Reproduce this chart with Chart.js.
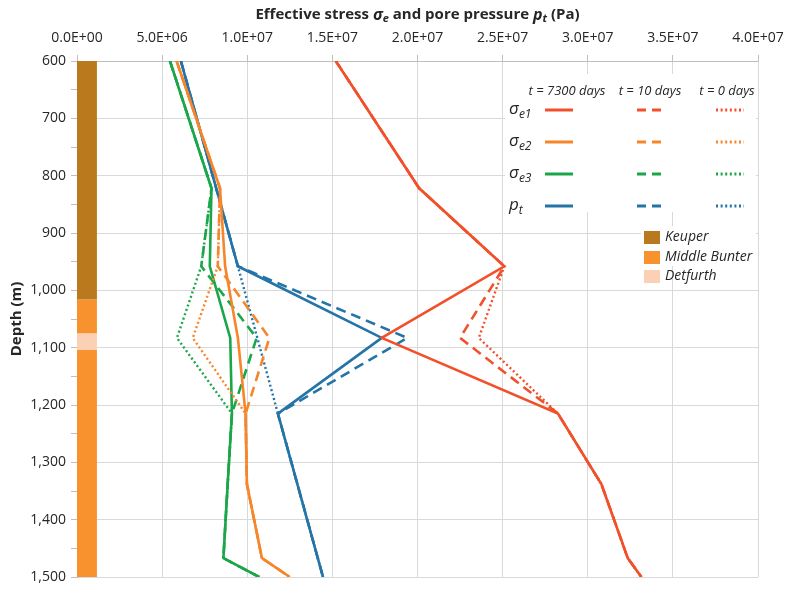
<!DOCTYPE html>
<html>
<head>
<meta charset="utf-8">
<script src="https://cdn.jsdelivr.net/npm/chart.js@4.4.0/dist/chart.umd.min.js"></script>
<style>
    html, body { margin: 0; padding: 0; background: #fff; }
</style>
</head>
<body>
<canvas id="stressChart" width="785" height="589"></canvas>
<script>
// depths (m) where the profiles change slope
const stressDepths = [600, 822, 958, 1083, 1215, 1338, 1467, 1500];
const poreDepths = [600, 958, 1083, 1215, 1500];
const poreDepthsInitial = [600, 958, 1215, 1500];

// sigma_e1 (Pa)
const sigmaE1_7300 = [15.2e6, 20.1e6, 25.1e6, 17.9e6, 28.25e6, 30.8e6, 32.35e6, 33.15e6];
const sigmaE1_10 = [15.2e6, 20.1e6, 25.1e6, 22.5e6, 28.25e6, 30.8e6, 32.35e6, 33.15e6];
const sigmaE1_0 = [15.2e6, 20.1e6, 25.1e6, 23.6e6, 28.25e6, 30.8e6, 32.35e6, 33.15e6];
// sigma_e2 (Pa)
const sigmaE2_7300 = [5.85e6, 8.4e6, 8.7e6, 9.45e6, 9.9e6, 9.98e6, 10.86e6, 12.5e6];
const sigmaE2_10 = [5.85e6, 8.4e6, 8.27e6, 11.3e6, 9.9e6, 9.98e6, 10.86e6, 12.5e6];
const sigmaE2_0 = [5.85e6, 8.4e6, 8.27e6, 6.8e6, 9.9e6, 9.98e6, 10.86e6, 12.5e6];
// sigma_e3 (Pa)
const sigmaE3_7300 = [5.46e6, 7.9e6, 7.8e6, 9.0e6, 9.1e6, 8.85e6, 8.6e6, 10.7e6];
const sigmaE3_10 = [5.46e6, 7.9e6, 7.3e6, 10.55e6, 9.1e6, 8.85e6, 8.6e6, 10.7e6];
const sigmaE3_0 = [5.46e6, 7.9e6, 7.3e6, 5.87e6, 9.1e6, 8.85e6, 8.6e6, 10.7e6];
// pore pressure p_t (Pa)
const pore_7300 = [6.1e6, 9.45e6, 17.9e6, 11.8e6, 14.45e6];
const pore_10 = [6.1e6, 9.45e6, 19.4e6, 11.8e6, 14.45e6];
const pore_0 = [6.1e6, 9.45e6, 11.8e6, 14.45e6];

// stratigraphy column
const strataNames = ['Keuper', 'Middle Bunter', 'Detfurth', 'Middle Bunter'];
const strataTop = [600, 1016, 1075, 1104];
const strataBase = [1016, 1075, 1104, 1500];

const xTicks = [0, 5e6, 1e7, 1.5e7, 2e7, 2.5e7, 3e7, 3.5e7, 4e7];

const strataColors = {
    'Keuper': '#BA791D',
    'Middle Bunter': '#F7922E',
    'Detfurth': '#FCD0B4'
};
const seriesColors = ['#F2502A', '#F7852A', '#1BA64A', '#2474A8'];
const styles = [
    { dash: [], width: 2.6 },
    { dash: [10, 6], width: 2.6 },
    { dash: [2, 2.6], width: 2.4 }
];
const fontName = '"Open Sans", sans-serif';
const barWidth = 1.17e6;

function toPoints(depths, values) {
    return depths.map((d, i) => ({ x: values[i], y: d }));
}

function fmtSci(v) {
    const parts = Number(v).toExponential(1).toUpperCase().split('E');
    const exp = parseInt(parts[1], 10);
    return parts[0] + 'E' + (exp < 0 ? '-' : '+') + String(Math.abs(exp)).padStart(2, '0');
}

const profiles = [
    [stressDepths, [sigmaE1_7300, sigmaE1_10, sigmaE1_0]],
    [stressDepths, [sigmaE2_7300, sigmaE2_10, sigmaE2_0]],
    [stressDepths, [sigmaE3_7300, sigmaE3_10, sigmaE3_0]],
    [null, [pore_7300, pore_10, pore_0]]
];

const datasets = [];
profiles.forEach((p, s) => {
    p[1].forEach((vals, t) => {
        let depths = p[0];
        if (!depths) depths = (t === 2) ? poreDepthsInitial : poreDepths;
        datasets.push({
            data: toPoints(depths, vals),
            showLine: true,
            borderColor: seriesColors[s],
            backgroundColor: seriesColors[s],
            borderWidth: styles[t].width,
            borderDash: styles[t].dash,
            pointRadius: 0,
            fill: false
        });
    });
});

// strata blocks, drawn first (last in list)
for (let i = 0; i < strataNames.length; i++) {
    const c = strataColors[strataNames[i]];
    datasets.push({
        data: [
            { x: 0, y: strataTop[i] }, { x: barWidth, y: strataTop[i] },
            { x: barWidth, y: strataBase[i] }, { x: 0, y: strataBase[i] }
        ],
        showLine: true,
        borderWidth: 0,
        borderColor: c,
        backgroundColor: c,
        pointRadius: 0,
        fill: 'shape'
    });
}

function drawRich(ctx, segs, x, y, align) {
    let total = 0;
    segs.forEach(s => { ctx.font = s.font; total += ctx.measureText(s.t).width; });
    let cx = align === 'center' ? x - total / 2 : x;
    ctx.textAlign = 'left';
    ctx.textBaseline = 'middle';
    segs.forEach(s => {
        ctx.font = s.font;
        ctx.fillText(s.t, cx, y + (s.dy || 0));
        cx += ctx.measureText(s.t).width;
    });
}

const decorPlugin = {
    id: 'decor',
    afterDatasetsDraw(chart) {
        const ctx = chart.ctx;
        const area = chart.chartArea;
        ctx.save();

        // title
        ctx.fillStyle = '#262626';
        const b = 'bold 15px ' + fontName;
        const bi = 'italic bold 16px ' + fontName;
        const bs = 'italic bold 11px ' + fontName;
        drawRich(ctx, [
            { t: 'Effective stress ', font: b },
            { t: '\u03C3', font: bi },
            { t: 'e', font: bs, dy: 4 },
            { t: ' and pore pressure ', font: b },
            { t: 'p', font: bi },
            { t: 't', font: bs, dy: 4 },
            { t: ' (Pa)', font: b }
        ], (area.left + area.right) / 2, 15, 'center');

        // series legend
        ctx.fillStyle = '#fff';
        ctx.fillRect(505, 74, 251, 138);
        ctx.fillRect(641, 226, 115, 40);

        ctx.fillStyle = '#262626';
        ctx.font = 'italic 13px ' + fontName;
        ctx.textAlign = 'center';
        ctx.textBaseline = 'middle';
        ctx.fillText('t = 7300 days', 567, 91);
        ctx.fillText('t = 10 days', 650, 91);
        ctx.fillText('t = 0 days', 727, 91);

        const rows = [
            ['\u03C3', 'e1'], ['\u03C3', 'e2'], ['\u03C3', 'e3'], ['p', 't']
        ];
        const rowY = [111, 143, 175, 207];
        const sampleX = [[545, 573], [637, 666], [716, 744]];
        rows.forEach((r, i) => {
            ctx.fillStyle = '#262626';
            drawRich(ctx, [
                { t: r[0], font: 'italic 17px ' + fontName, dy: -2 },
                { t: r[1], font: 'italic 12px ' + fontName, dy: 4 }
            ], 509, rowY[i], 'left');
            sampleX.forEach((sx, t) => {
                ctx.strokeStyle = seriesColors[i];
                ctx.lineWidth = 3;
                ctx.setLineDash(t === 1 ? [9, 6] : (t === 2 ? [2, 2.6] : []));
                ctx.beginPath();
                ctx.moveTo(sx[0], rowY[i] - 1);
                ctx.lineTo(sx[1], rowY[i] - 1);
                ctx.stroke();
            });
        });
        ctx.setLineDash([]);

        // strata legend
        const legendNames = ['Keuper', 'Middle Bunter', 'Detfurth'];
        const legendY = [237, 257, 276];
        legendNames.forEach((n, i) => {
            ctx.fillStyle = strataColors[n];
            ctx.fillRect(644, legendY[i] - 6, 16, 13);
            ctx.fillStyle = '#262626';
            ctx.font = 'italic 14px ' + fontName;
            ctx.textAlign = 'left';
            ctx.fillText(n, 665, legendY[i]);
        });
        ctx.restore();
    }
};

new Chart(document.getElementById('stressChart'), {
    type: 'scatter',
    data: { datasets: datasets },
    options: {
        responsive: false,
        animation: false,
        devicePixelRatio: 1,
        layout: { padding: { left: 0, right: 27, top: 0, bottom: 12 } },
        plugins: {
            legend: { display: false },
            tooltip: { enabled: false }
        },
        scales: {
            x: {
                type: 'linear',
                position: 'top',
                min: 0,
                max: 4e7,
                afterFit: (scale) => {
                    scale.height = 61;
                    scale.paddingLeft = 0;
                    scale.paddingRight = 0;
                },
                afterBuildTicks: (scale) => { scale.ticks = xTicks.map(v => ({ value: v })); },
                ticks: {
                    callback: (v) => fmtSci(v),
                    color: '#262626',
                    font: { family: fontName, size: 14 },
                    padding: 9,
                    maxRotation: 0
                },
                grid: { color: '#d9d9d9', tickColor: '#bfbfbf', tickLength: 6, lineWidth: 1 },
                border: { color: '#bfbfbf' }
            },
            y: {
                type: 'linear',
                reverse: true,
                min: 600,
                max: 1500,
                afterFit: (scale) => {
                    scale.width = 77;
                    scale.paddingTop = 0;
                    scale.paddingBottom = 0;
                },
                ticks: {
                    stepSize: 50,
                    autoSkip: false,
                    callback: (v) => (v % 100 === 0 ? v.toLocaleString('en-US') : ''),
                    color: '#262626',
                    font: { family: fontName, size: 14 },
                    padding: 5
                },
                grid: {
                    color: (c) => (c.tick && c.tick.value % 100 === 0 ? '#d9d9d9' : 'rgba(0,0,0,0)'),
                    tickColor: '#bfbfbf',
                    tickLength: 6
                },
                border: { color: '#bfbfbf' },
                title: {
                    display: true,
                    text: 'Depth (m)',
                    color: '#262626',
                    font: { family: fontName, size: 15, weight: 'bold' },
                    padding: { top: 8, bottom: 0 }
                }
            }
        }
    },
    plugins: [decorPlugin]
});
</script>
</body>
</html>
